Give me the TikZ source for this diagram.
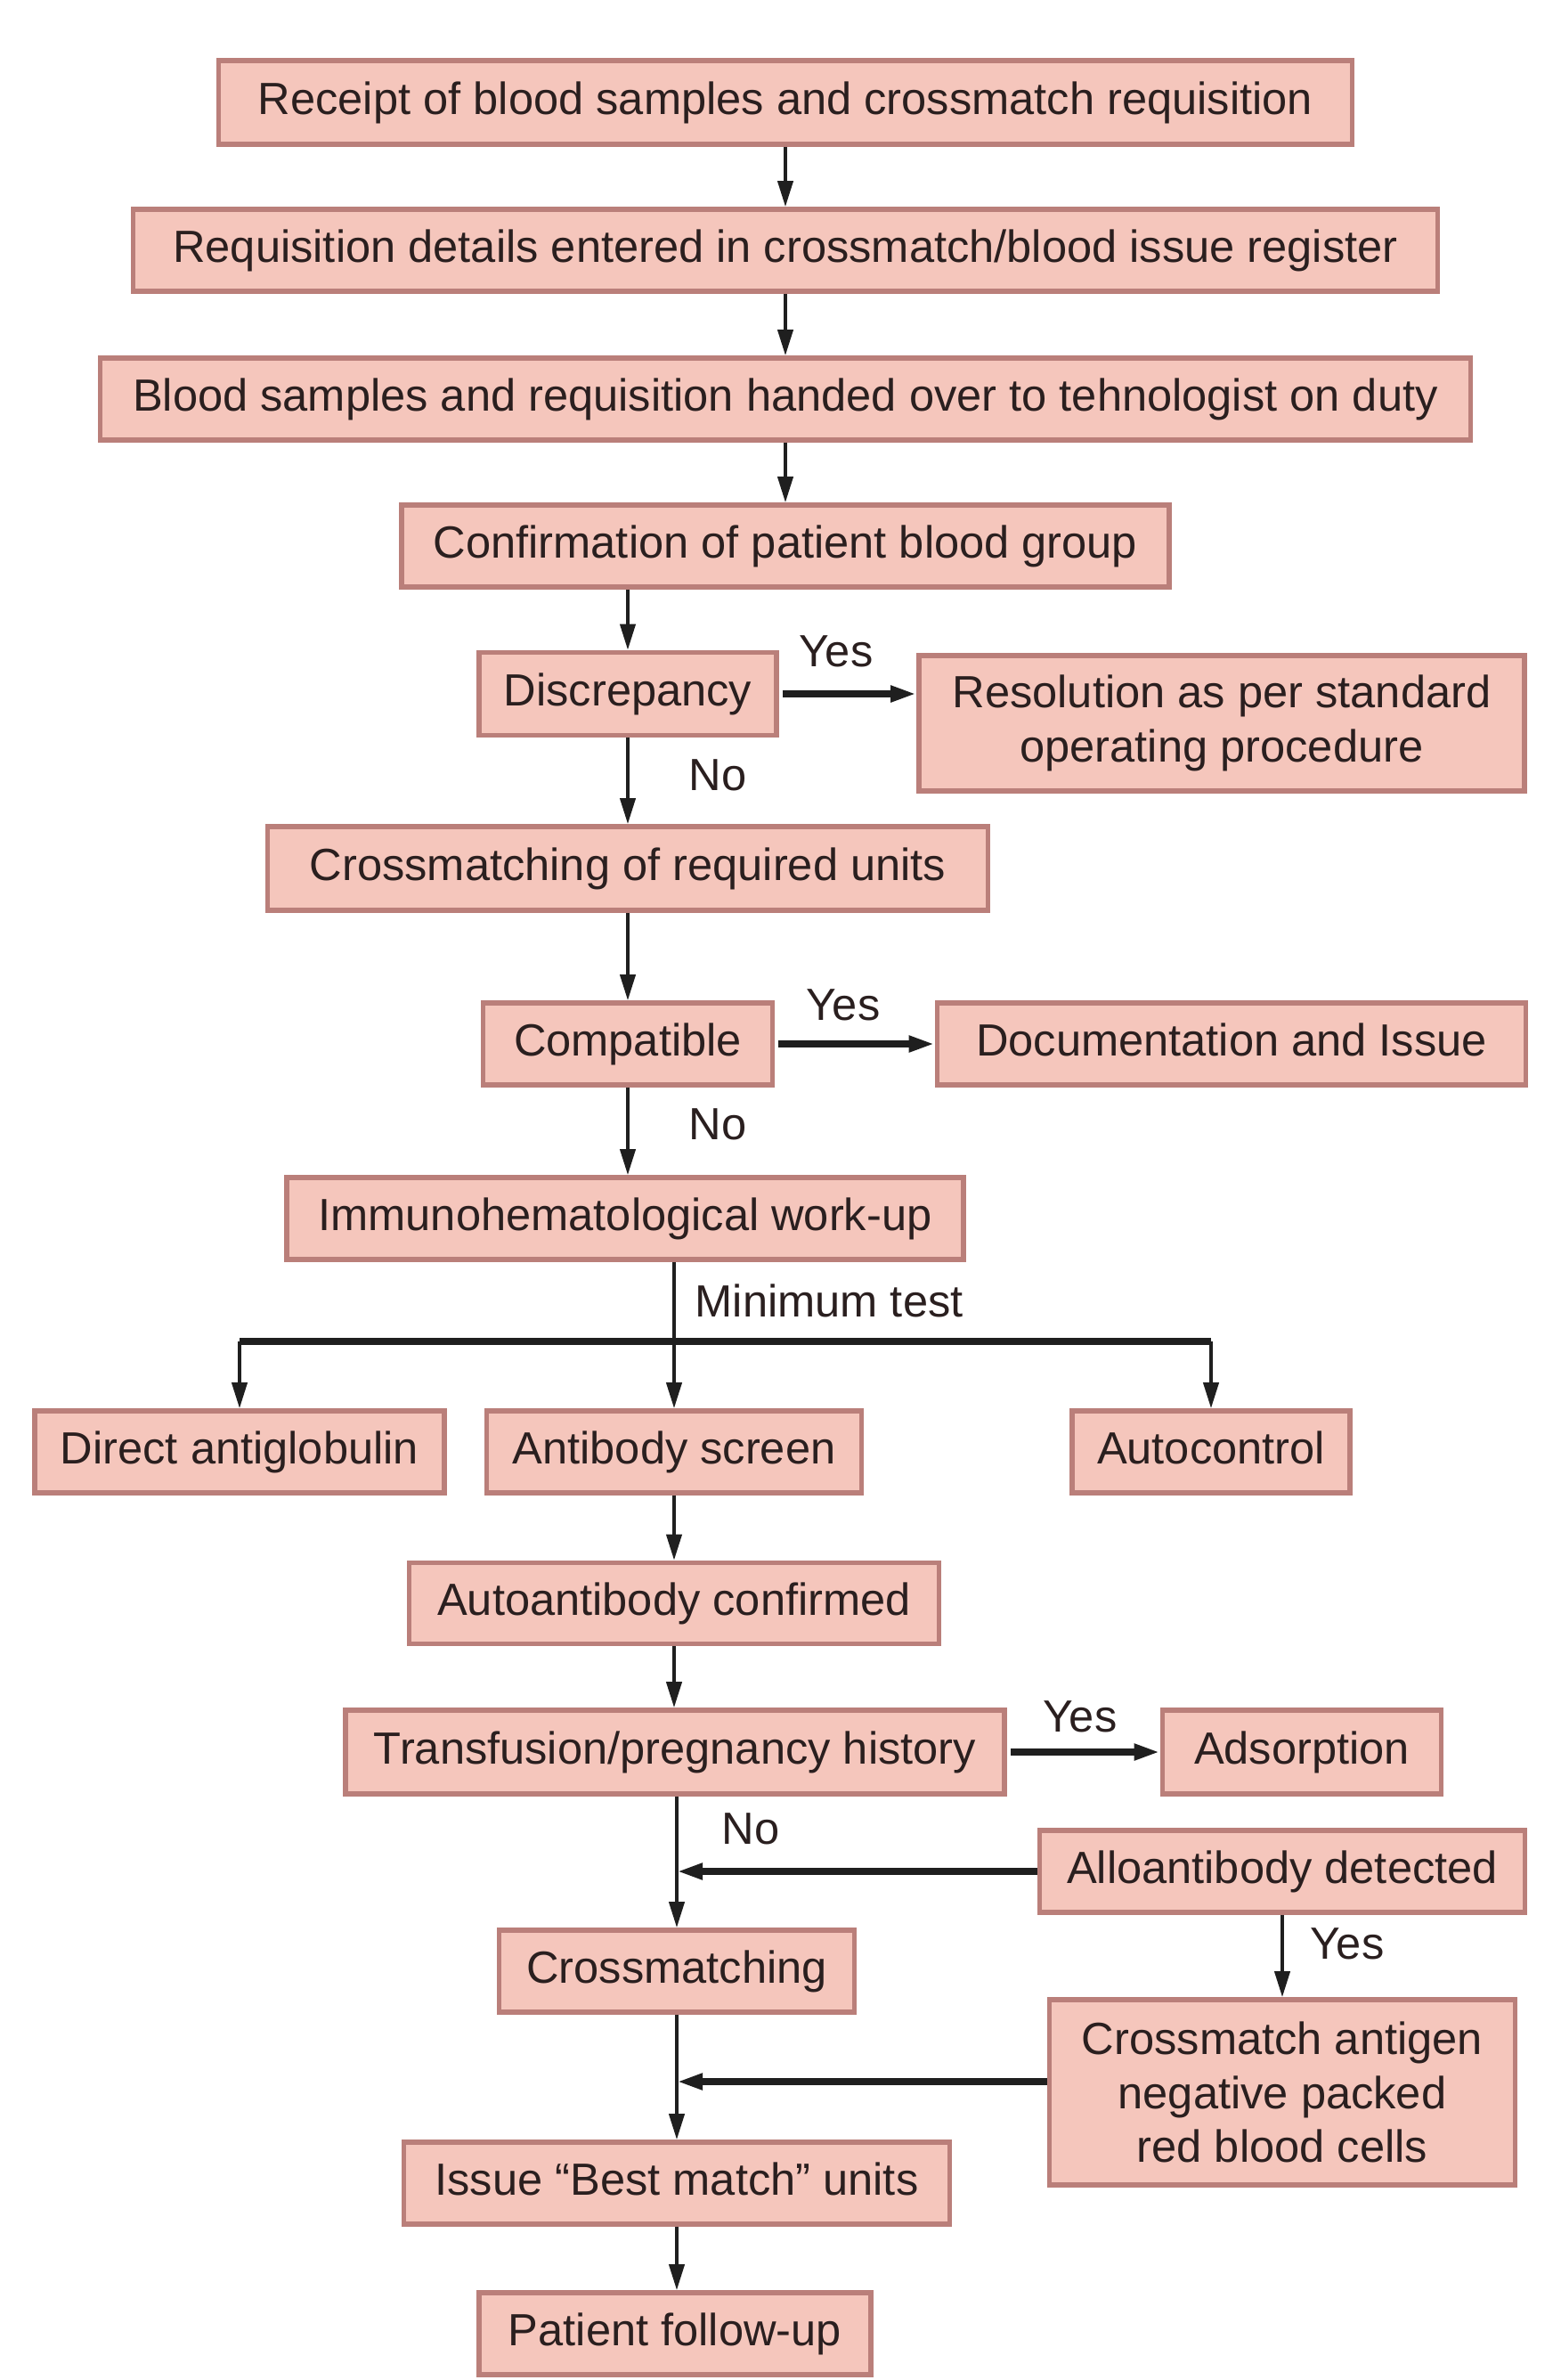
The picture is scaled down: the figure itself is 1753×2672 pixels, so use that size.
\documentclass[tikz,border=0pt]{standalone}
\usepackage{fontspec}
\setmainfont{Liberation Sans}
\usetikzlibrary{arrows.meta}
\definecolor{boxfill}{HTML}{F5C6BC}
\definecolor{boxline}{HTML}{BA7F7A}
\definecolor{txt}{HTML}{2A1F1F}
\begin{document}
\begin{tikzpicture}[x=0.1mm, y=-0.1mm,
  box/.style={draw=boxline, line width=1.6pt, fill=boxfill, text=txt,
    font=\fontsize{14.4}{17.2}\selectfont, inner sep=0pt, align=center},
  sbox/.style={box, text height=3.7mm, text depth=1.05mm},
  arr/.style={-{Triangle[length=2.9mm,width=1.7mm]}, line width=1.1pt, draw=black!88},
  harr/.style={arr, line width=2.1pt},
  lbl/.style={font=\fontsize{14.4}{17.2}\selectfont, text=txt, inner sep=0pt}]
\useasboundingbox[fill=white] (0,0) rectangle (1753,2672);

\node[sbox, minimum width=127.3mm, minimum height=9.4mm] (n1) at (882,115) {Receipt of blood samples and crossmatch requisition};
\node[sbox, minimum width=146.5mm, minimum height=9.2mm] (n2) at (882,281) {Requisition details entered in crossmatch/blood issue register};
\node[sbox, minimum width=153.9mm, minimum height=9.2mm] (n3) at (882,448) {Blood samples and requisition handed over to tehnologist on duty};
\node[sbox, minimum width=86.2mm, minimum height=9.2mm] (n4) at (882,613) {Confirmation of patient blood group};
\node[sbox, minimum width=33.4mm, minimum height=9.3mm] (n5) at (705,779) {Discrepancy};
\node[box, minimum width=68.0mm, minimum height=15.2mm] (n6) at (1372,812) {Resolution as per standard\\operating procedure};
\node[sbox, minimum width=80.9mm, minimum height=9.4mm] (n7) at (705,975) {Crossmatching of required units};
\node[sbox, minimum width=32.5mm, minimum height=9.2mm] (n8) at (705,1172) {Compatible};
\node[sbox, minimum width=66.1mm, minimum height=9.2mm] (n9) at (1383,1172) {Documentation and Issue};
\node[sbox, minimum width=76.0mm, minimum height=9.2mm] (n10) at (702,1368) {Immunohematological work-up};
\node[sbox, minimum width=46.0mm, minimum height=9.2mm] (n11) at (269,1630) {Direct antiglobulin};
\node[sbox, minimum width=42.1mm, minimum height=9.2mm] (n12) at (757,1630) {Antibody screen};
\node[sbox, minimum width=31.2mm, minimum height=9.2mm] (n13) at (1360,1630) {Autocontrol};
\node[sbox, minimum width=59.5mm, minimum height=9.1mm] (n14) at (757,1800) {Autoantibody confirmed};
\node[sbox, minimum width=74.0mm, minimum height=9.4mm] (n15) at (758,1967) {Transfusion/pregnancy history};
\node[sbox, minimum width=31.3mm, minimum height=9.4mm] (n16) at (1462,1967) {Adsorption};
\node[sbox, minimum width=54.5mm, minimum height=9.2mm] (n17) at (1440,2101) {Alloantibody detected};
\node[sbox, minimum width=39.9mm, minimum height=9.2mm] (n18) at (760,2213) {Crossmatching};
\node[box, minimum width=52.3mm, minimum height=20.8mm] (n19) at (1440,2349) {Crossmatch antigen\\negative packed\\red blood cells};
\node[sbox, minimum width=61.3mm, minimum height=9.2mm] (n20) at (760,2451) {Issue “Best match” units};
\node[sbox, minimum width=44.0mm, minimum height=9.2mm] (n21) at (758,2620) {Patient follow-up};

% labels
\node[lbl] (y1) at (939,731) {Yes};
\node[lbl] (no1) at (806,870) {No};
\node[lbl] (y2) at (947,1128) {Yes};
\node[lbl] (no2) at (806,1262) {No};
\node[lbl, anchor=west] (mt) at (780,1460) {Minimum test};
\node[lbl] (y3) at (1213,1927) {Yes};
\node[lbl] (no3) at (843,2053) {No};
\node[lbl] (y4) at (1513,2182) {Yes};

% connectors
\draw[arr] (n1.south) -- (n2.north);
\draw[arr] (n2.south) -- (n3.north);
\draw[arr] (n3.south) -- (n4.north);
\draw[arr] (n4.south -| n5.north) -- (n5.north);
\draw[harr] ([xshift=0.4mm]n5.east) -- (n5.east -| n6.west);
\draw[arr] (n5.south) -- (n7.north);
\draw[arr] (n7.south) -- (n8.north);
\draw[harr] ([xshift=0.4mm]n8.east) -- (n8.east -| n9.west);
\draw[arr] (n8.south) -- (n8.south |- n10.north);

\coordinate (br) at (757,1506);
\draw[line width=1.1pt, draw=black!88] (n10.south -| br) -- (br);
\draw[line width=2.3pt, draw=black!88] (n11.north |- br) -- (n13.north |- br);
\draw[arr] (n11.north |- br) -- (n11.north);
\draw[arr] (br) -- (n12.north);
\draw[arr] (n13.north |- br) -- (n13.north);

\draw[arr] (n12.south) -- (n14.north);
\draw[arr] (n14.south) -- (n14.south |- n15.north);
\draw[harr] ([xshift=0.4mm]n15.east) -- (n15.east -| n16.west);
\draw[arr] (n15.south -| n18.north) -- (n18.north);
\draw[harr] (n17.west) -- (n17.west -| n18.north);
\draw[arr] (n17.south) -- (n19.north);
\draw[arr] (n18.south) -- (n20.north);
\draw[harr] ([yshift=1.2mm]n19.west) -- ([yshift=1.2mm]n19.west -| n18.south);
\draw[arr] (n20.south) -- (n20.south |- n21.north);
\end{tikzpicture}
\end{document}
